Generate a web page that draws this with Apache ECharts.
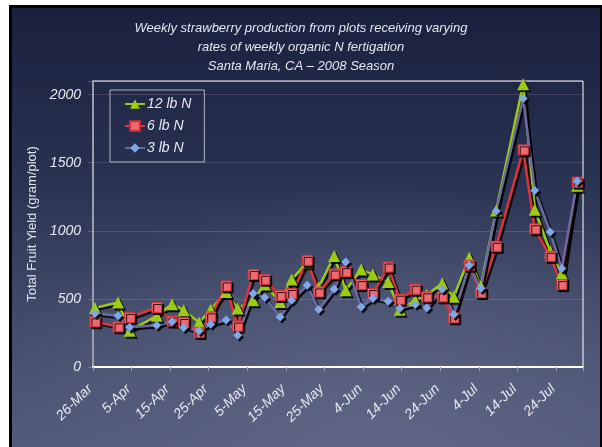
<!DOCTYPE html>
<html>
<head>
<meta charset="utf-8">
<script src="https://cdn.jsdelivr.net/npm/echarts@6/dist/echarts.min.js"></script>
<style>
    body { margin: 0; background: #fff; }
    #panel {
        position: absolute; left: 9px; top: 5px; width: 588px; height: 445px;
        border: 3px solid #000;
        background: radial-gradient(ellipse 70% 60% at 62% 100%, #5e6585 0%, rgba(80, 88, 120, 0) 100%),
                    linear-gradient(to bottom, #19213f 0%, #28304f 35%, #434b6b 70%, #525a7a 100%);
    }
    #main { position: absolute; left: 0; top: 0; width: 602px; height: 447px; }
</style>
</head>
<body>
<div id="panel"></div>
<div id="main"></div>
<script>
// harvest dates and yields (gram/plot)
const harvestDates = ['2008-03-26', '2008-04-01', '2008-04-04', '2008-04-11', '2008-04-15', '2008-04-18',
    '2008-04-22', '2008-04-25', '2008-04-29', '2008-05-02', '2008-05-06', '2008-05-09', '2008-05-13',
    '2008-05-16', '2008-05-20', '2008-05-23', '2008-05-27', '2008-05-30', '2008-06-03', '2008-06-06',
    '2008-06-10', '2008-06-13', '2008-06-17', '2008-06-20', '2008-06-24', '2008-06-27', '2008-07-01',
    '2008-07-04', '2008-07-08', '2008-07-15', '2008-07-18', '2008-07-22', '2008-07-25', '2008-07-29'];
const lb12 = [434, 474, 266, 376, 461, 417, 327, 420, 550, 430, 490, 605, 478, 642, 770, 585, 815,
    564, 715, 679, 624, 420, 490, 530, 613, 515, 803, 595, 1150, 2077, 1155, 850, 686, 1330];
const lb6 = [332, 295, 364, 437, 337, 327, 254, 368, 595, 300, 679, 644, 525, 540, 783, 551, 683,
    700, 605, 540, 734, 498, 571, 515, 515, 361, 747, 547, 886, 1594, 1015, 813, 605, 1357];
const lb3 = [393, 376, 291, 307, 332, 288, 266, 313, 345, 234, 540, 510, 368, 490, 600, 422, 571,
    771, 441, 503, 483, 432, 459, 434, 571, 386, 747, 576, 1145, 1972, 1296, 991, 723, 1364];
const tickLabels = ['26-Mar', '5-Apr', '15-Apr', '25-Apr', '5-May', '15-May', '25-May',
    '4-Jun', '14-Jun', '24-Jun', '4-Jul', '14-Jul', '24-Jul'];
const startDate = '2008-03-26';
const endDate = '2008-07-31';

const textFont = "'Liberation Sans', Arial, sans-serif";

// days since the start of the axis, points sit in the middle of their day
const dayOf = (d) => {
    var p = d.split('-').map(Number);
    var s = startDate.split('-').map(Number);
    return (Date.UTC(p[0], p[1] - 1, p[2]) - Date.UTC(s[0], s[1] - 1, s[2])) / 86400000;
};

const toPoints = (vals) => harvestDates.map((d, i) => [dayOf(d) + 0.5, vals[i]]);

const shadow = {
    shadowColor: 'rgba(0,0,0,0.85)',
    shadowOffsetX: 2,
    shadowOffsetY: 2,
    shadowBlur: 0
};

const yieldChartInit = () => {
    var chartDom = document.getElementById('main');
    var myChart = echarts.init(chartDom, null, { renderer: 'canvas' });
    var option;

    option = {
        animation: false,
        title: {
            text: 'Weekly strawberry production from plots receiving varying\nrates of weekly organic N fertigation\nSanta Maria, CA \u2013 2008 Season',
            left: 'center',
            top: 14,
            textStyle: {
                color: '#e4e6ee',
                fontFamily: textFont,
                fontStyle: 'italic',
                fontWeight: 'normal',
                fontSize: 13,
                lineHeight: 19
            }
        },
        legend: {
            orient: 'vertical',
            left: 110,
            top: 90,
            padding: [7, 13, 7, 14],
            itemGap: 8,
            itemWidth: 20,
            itemHeight: 12,
            borderColor: '#b0b4c4',
            borderWidth: 1,
            textStyle: {
                color: '#e8e8f0',
                fontFamily: textFont,
                fontStyle: 'italic',
                fontSize: 14,
                padding: [0, 0, 0, -3]
            },
            data: ['12 lb N', '6 lb N', '3 lb N']
        },
        grid: {
            left: 93,
            right: 19,
            top: 81,
            bottom: 80,
            show: true,
            borderColor: '#ffffff',
            borderWidth: 1
        },
        xAxis: {
            type: 'value',
            min: 0,
            max: dayOf(endDate),
            interval: 10,
            axisLine: { lineStyle: { color: '#ffffff', width: 2 } },
            axisTick: { show: true, length: 4, lineStyle: { color: '#9a9eb0' } },
            splitLine: { show: false },
            axisLabel: {
                rotate: 45,
                margin: 17,
                padding: [0, 4, 0, 0],
                color: '#e8e8f0',
                fontFamily: textFont,
                fontStyle: 'italic',
                fontSize: 14,
                formatter: (v) => (v % 10 === 0 ? tickLabels[v / 10] || '' : '')
            }
        },
        yAxis: {
            type: 'value',
            min: 0,
            max: 2100,
            interval: 500,
            name: 'Total Fruit Yield (gram/plot)',
            nameLocation: 'middle',
            nameGap: 53,
            nameTextStyle: {
                color: '#e0e2ea',
                fontFamily: textFont,
                fontSize: 13
            },
            axisLine: { show: true, lineStyle: { color: '#9a9eaa', width: 2 } },
            axisTick: { show: true, length: 5, lineStyle: { color: 'rgba(255,255,255,0.2)' } },
            splitLine: { lineStyle: { color: 'rgba(255,255,255,0.13)' } },
            axisLabel: {
                margin: 12,
                color: '#e8e8f0',
                fontFamily: textFont,
                fontStyle: 'italic',
                fontSize: 14,
                formatter: (v) => (v <= 2000 ? String(v) : '')
            }
        },
        series: [{
            name: '12 lb N',
            type: 'line',
            data: toPoints(lb12),
            symbol: 'triangle',
            symbolSize: 12,
            color: '#9bcc12',
            lineStyle: Object.assign({ width: 2.5, color: '#9bcc12' }, shadow),
            itemStyle: Object.assign({ color: '#9bcc12' }, shadow)
        },
        {
            name: '6 lb N',
            type: 'line',
            data: toPoints(lb6),
            symbol: 'rect',
            symbolSize: 10,
            color: '#e0323c',
            lineStyle: Object.assign({ width: 2.5, color: '#e0323c' }, shadow),
            itemStyle: Object.assign({ color: '#ef6a70', borderColor: '#d8303a', borderWidth: 1 }, shadow)
        },
        {
            name: '3 lb N',
            type: 'line',
            data: toPoints(lb3),
            symbol: 'diamond',
            symbolSize: 9,
            color: '#6a6aa2',
            lineStyle: Object.assign({ width: 2.5, color: '#6a6aa2' }, shadow),
            itemStyle: Object.assign({ color: '#7ea8ea' }, shadow)
        }
        ]
    };

    option && myChart.setOption(option);
};

yieldChartInit();
</script>
</body>
</html>
